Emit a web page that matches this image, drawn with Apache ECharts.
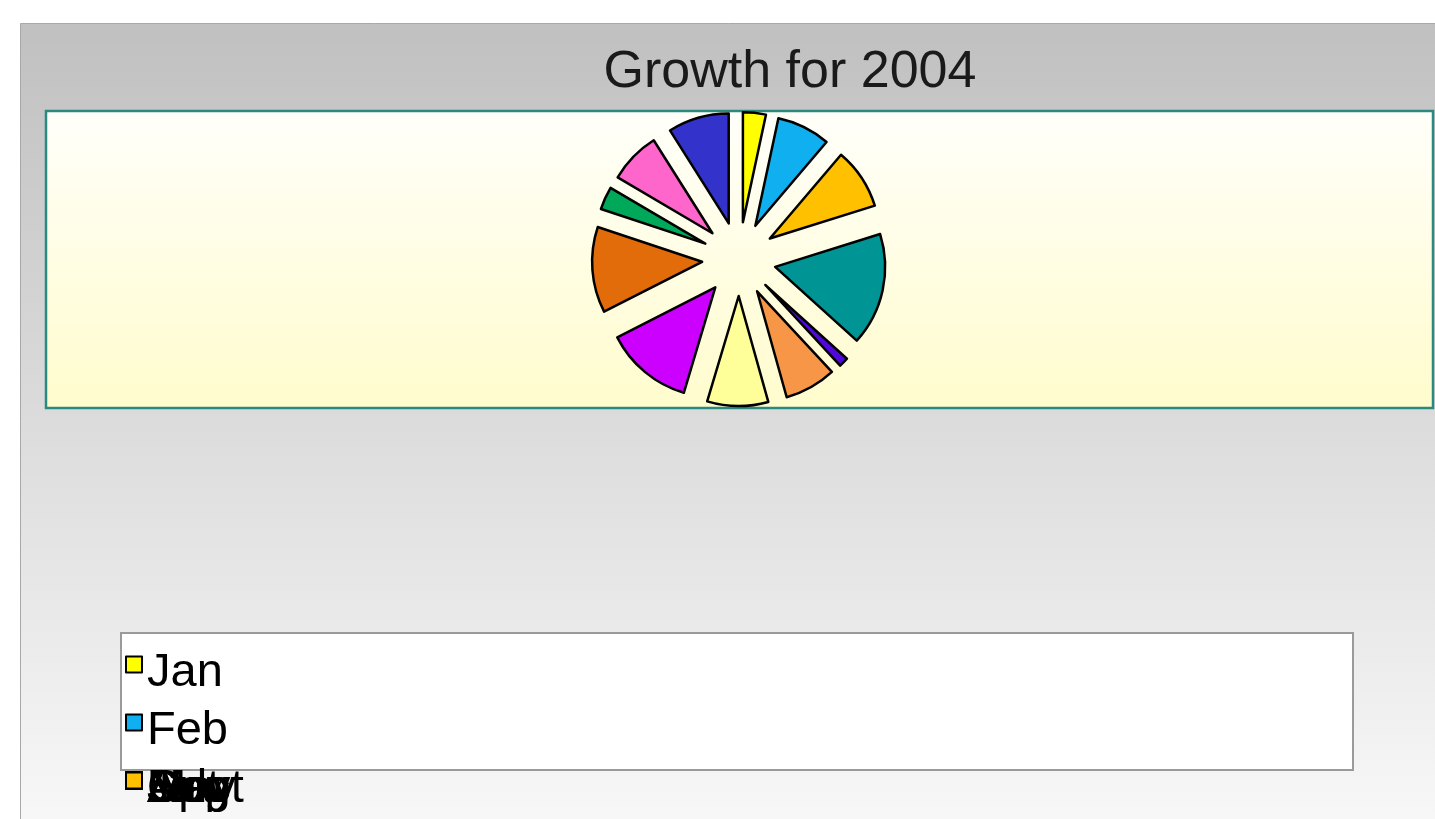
<!DOCTYPE html>
<html>
<head>
<meta charset="utf-8">
<script src="https://cdn.jsdelivr.net/npm/echarts@6/dist/echarts.min.js"></script>
<style>
html, body { margin: 0; padding: 0; background: #fff; }
#chart { width: 1435px; height: 819px; }
</style>
</head>
<body>
<div id="chart"></div>
<script>
// growth per month, 2004
const months = ['Jan', 'Feb', 'Mar', 'Apr', 'May', 'Jun', 'Jul', 'Aug', 'Sept', 'Oct', 'Nov', 'Dec']
const growth = [12, 28, 32, 59, 5, 27, 32, 46, 45, 12, 27, 32]
const colors = ['#ffff00', '#10aff0', '#ffc000', '#009494', '#5208dc', '#f79646',
  '#ffff99', '#cc00ff', '#e26b0a', '#00a859', '#ff66cc', '#3333cc']

const chartDom = document.getElementById('chart')
const myChart = echarts.init(chartDom)

// every month gets its own legend; from Mar on they all land on the same spot
// (Mar drawn on top, like the original)
const legends = months.map((m, i) => ({
  data: [m],
  orient: 'vertical',
  left: 120,
  top: 645 + Math.min(i, 2) * 58,
  z: 30 - i,
  // square sits in the upper part of the icon box, a bit above the text middle
  icon: 'path://M0,0L16,0L16,16L0,16Z M0,34',
  itemWidth: 16,
  itemHeight: 34,
  itemGap: 0,
  selectedMode: false,
  textStyle: {
    fontSize: 47,
    color: '#000',
    fontFamily: 'Liberation Sans, Arial, sans-serif'
  }
}))

const option = {
  animation: false,
  title: {
    text: 'Growth for 2004',
    left: 785,
    top: 42,
    textAlign: 'center',
    textStyle: { fontSize: 52, fontWeight: 'normal', color: '#1a1a1a', fontFamily: 'Liberation Sans, Arial, sans-serif' }
  },
  legend: legends,
  graphic: [
    {
      type: 'rect',
      z: -10,
      shape: { x: 20.5, y: 23.5, width: 1600, height: 900 },
      style: {
        fill: new echarts.graphic.LinearGradient(0, 0, 0, 1, [
          { offset: 0, color: '#c0c0c0' },
          { offset: 0.88, color: '#f7f7f7' },
          { offset: 1, color: '#fafafa' }
        ]),
        stroke: '#a8a8a8',
        lineWidth: 1
      }
    },
    {
      type: 'rect',
      z: -9,
      shape: { x: 46, y: 111, width: 1387, height: 297 },
      style: {
        fill: new echarts.graphic.LinearGradient(0, 0, 0, 1, [
          { offset: 0, color: '#fffffa' },
          { offset: 1, color: '#fffccd' }
        ]),
        stroke: '#2a8a80',
        lineWidth: 2.5
      }
    },
    {
      type: 'rect',
      z: -9,
      shape: { x: 121, y: 633, width: 1232, height: 137 },
      style: { fill: '#ffffff', stroke: '#9a9a9a', lineWidth: 2 }
    }
  ],
  series: [
    {
      type: 'pie',
      center: [739, 259],
      radius: 110,
      startAngle: 90,
      clockwise: true,
      selectedMode: 'multiple',
      selectedOffset: 37,
      label: { show: false },
      labelLine: { show: false },
      emphasis: { disabled: true },
      itemStyle: { borderColor: '#000', borderWidth: 2.5 },
      data: months.map((m, i) => ({
        name: m,
        value: growth[i],
        selected: true,
        itemStyle: { color: colors[i] }
      }))
    }
  ]
}
myChart && myChart.setOption(option)
</script>
</body>
</html>
